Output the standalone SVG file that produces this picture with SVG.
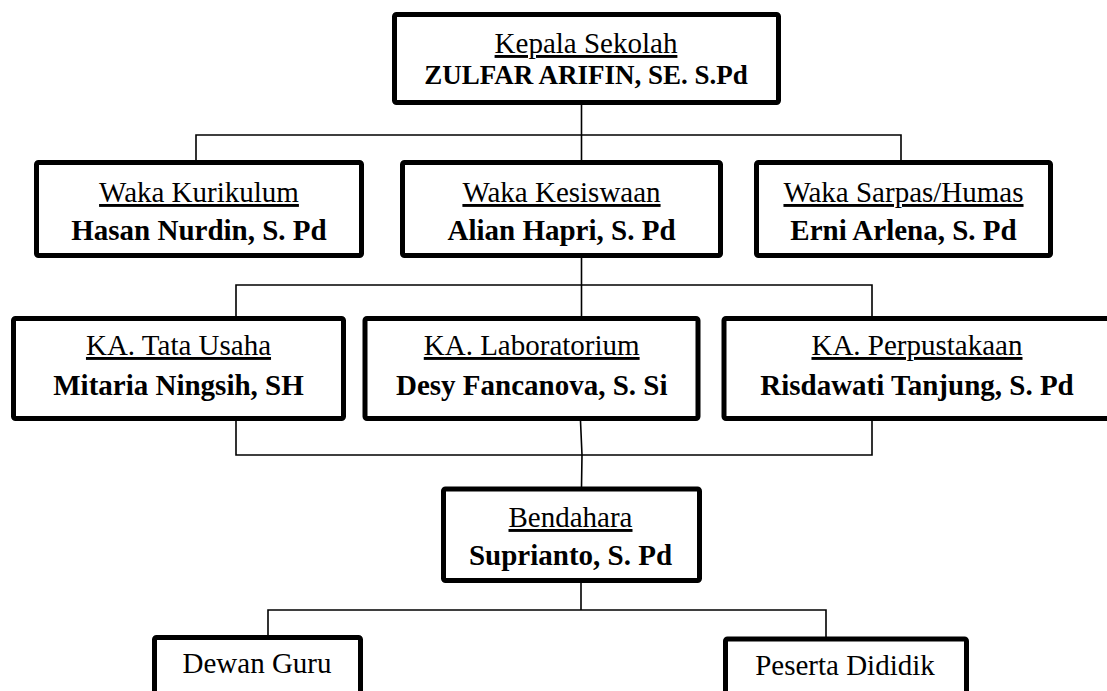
<svg xmlns="http://www.w3.org/2000/svg" width="1107" height="691" viewBox="0 0 1107 691">
<style>
.box{fill:#fff;stroke:#000;stroke-width:5;stroke-linejoin:round}
.ln{fill:none;stroke:#000;stroke-width:1.6}
text{font-family:"Liberation Serif","Times New Roman",serif;font-size:29px;text-anchor:middle;fill:#000}
.t{text-decoration:underline}
.b{font-weight:bold}
</style>
<rect width="1107" height="691" fill="#fff"/>
<g id="connectors">
<path class="ln" d="M581.5 105V160M196 160V135H901V160"/>
<path class="ln" d="M581.5 258V316M236 316V285H872V316"/>
<path class="ln" d="M236 421V455H872V421M580.5 421L582 455L581.5 487"/>
<path class="ln" d="M581 583V610M268 635V610H826V637"/>
</g>
<g id="kepala">
<rect class="box" x="394.5" y="14.5" width="384" height="88" rx="2"/>
<text class="t" x="586" y="53">Kepala Sekolah</text>
<text class="b" x="586" y="84" style="font-size:27px">ZULFAR ARIFIN, SE. S.Pd</text>
</g>
<g id="kurikulum">
<rect class="box" x="36.5" y="162.5" width="325" height="93" rx="2"/>
<text class="t" x="199" y="202">Waka Kurikulum</text>
<text class="b" x="199" y="240">Hasan Nurdin, S. Pd</text>
</g>
<g id="kesiswaan">
<rect class="box" x="402.5" y="162.5" width="318" height="93" rx="2"/>
<text class="t" x="561.5" y="202">Waka Kesiswaan</text>
<text class="b" x="561.5" y="240">Alian Hapri, S. Pd</text>
</g>
<g id="sarpas">
<rect class="box" x="756.5" y="162.5" width="294" height="93" rx="2"/>
<text class="t" x="903.5" y="202">Waka Sarpas/Humas</text>
<text class="b" x="903.5" y="240">Erni Arlena, S. Pd</text>
</g>
<g id="tatausaha">
<rect class="box" x="13.5" y="318.5" width="330" height="100" rx="2"/>
<text class="t" x="178.5" y="355">KA. Tata Usaha</text>
<text class="b" x="178.5" y="395">Mitaria Ningsih, SH</text>
</g>
<g id="laboratorium">
<rect class="box" x="365" y="318.5" width="333" height="100" rx="2"/>
<text class="t" x="531.7" y="355">KA. Laboratorium</text>
<text class="b" x="531.7" y="395">Desy Fancanova, S. Si</text>
</g>
<g id="perpustakaan">
<rect class="box" x="724" y="318.5" width="400" height="100" rx="2"/>
<text class="t" x="917" y="355">KA. Perpustakaan</text>
<text class="b" x="917" y="395">Risdawati Tanjung, S. Pd</text>
</g>
<g id="bendahara">
<rect class="box" x="443.5" y="489" width="256" height="91.5" rx="2"/>
<text class="t" x="570.5" y="527">Bendahara</text>
<text class="b" x="570.5" y="565">Suprianto, S. Pd</text>
</g>
<g id="dewanguru">
<rect class="box" x="154.5" y="637.5" width="206" height="70" rx="2"/>
<text x="257" y="673">Dewan Guru</text>
</g>
<g id="pesertadidik">
<rect class="box" x="725.5" y="639" width="241" height="70" rx="2"/>
<text x="845" y="675">Peserta Dididik</text>
</g>
</svg>
